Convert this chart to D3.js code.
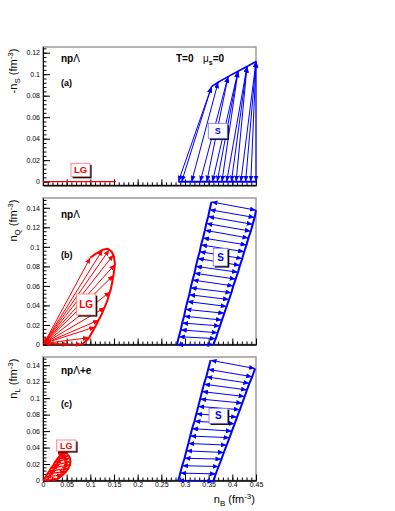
<!DOCTYPE html>
<html>
<head>
<meta charset="utf-8">
<script src="https://cdn.jsdelivr.net/npm/d3@7"></script>
<style>
  body { margin: 0; background: #fff; }
  svg { font-family: "Liberation Sans", Arial, Helvetica, sans-serif; }
</style>
</head>
<body>
<svg id="chart" width="395" height="511"></svg>
<script>
// ---- data (densities in fm^-3) ----
const xTickValues = [0, 0.05, 0.1, 0.15, 0.2, 0.25, 0.3, 0.35, 0.4, 0.45];
const yTicksA = [0, 0.02, 0.04, 0.06, 0.08, 0.1, 0.12];
const yTicksBC = [0, 0.02, 0.04, 0.06, 0.08, 0.1, 0.12, 0.14];

// (a) strangeness, S phase: bottom ends (n_S = 0) and top ends
const aBottomNB = [0.286, 0.293, 0.314, 0.332, 0.346, 0.358, 0.368, 0.378, 0.388, 0.398, 0.408, 0.418, 0.428, 0.439, 0.450];
const aTopNB    = [0.356, 0.356, 0.370, 0.391, 0.391, 0.412, 0.412, 0.412, 0.431, 0.431, 0.431, 0.450, 0.450, 0.450, 0.450];
const aTopNS    = [0.0884, 0.0884, 0.0925, 0.0977, 0.0977, 0.1027, 0.1027, 0.1027, 0.1072, 0.1072, 0.1072, 0.1118, 0.1118, 0.1118, 0.1118];
// (a) top boundary of the S phase
const aEdgeNB = [0.356, 0.370, 0.391, 0.412, 0.431, 0.450];
const aEdgeNS = [0.0884, 0.0925, 0.0977, 0.1027, 0.1072, 0.1118];
// (a) LG segment on n_S = 0
const aLGNB = [0, 0.154];

// (b) charge, S phase: left and right ends of tie lines
const bLeftNB  = [0.283, 0.287, 0.291, 0.294, 0.298, 0.301, 0.305, 0.309, 0.312, 0.316, 0.320, 0.323, 0.327, 0.331, 0.334, 0.338, 0.342, 0.345, 0.349, 0.352, 0.356];
const bLeftNQ  = [0.000, 0.008, 0.015, 0.022, 0.029, 0.036, 0.044, 0.051, 0.058, 0.066, 0.073, 0.080, 0.088, 0.095, 0.102, 0.109, 0.117, 0.124, 0.131, 0.138, 0.146];
const bRightNB = [0.360, 0.365, 0.369, 0.374, 0.378, 0.383, 0.388, 0.393, 0.398, 0.402, 0.407, 0.412, 0.416, 0.421, 0.425, 0.430, 0.434, 0.439, 0.443, 0.447, 0.450];
const bRightNQ = [0.000, 0.006, 0.012, 0.019, 0.025, 0.032, 0.039, 0.046, 0.053, 0.060, 0.067, 0.074, 0.081, 0.088, 0.095, 0.102, 0.109, 0.116, 0.123, 0.130, 0.1375];
// (b) LG: gas point and liquid branch
const bGas = [0.002, 0.001];
const bLiquidNB = [0.082, 0.096, 0.110, 0.124, 0.136, 0.144, 0.149, 0.152, 0.150, 0.145, 0.137, 0.126, 0.112, 0.100];
const bLiquidNQ = [0.000, 0.006, 0.018, 0.031, 0.045, 0.058, 0.071, 0.082, 0.090, 0.095, 0.098, 0.097, 0.093, 0.089];
const bFanNB = [0.054, 0.082, 0.097, 0.110, 0.118, 0.131, 0.142, 0.149, 0.152, 0.149, 0.140, 0.126, 0.100];
const bFanNQ = [0.000, 0.000, 0.007, 0.018, 0.025, 0.038, 0.054, 0.071, 0.082, 0.092, 0.097, 0.097, 0.089];

// (c) lepton, S phase
const cLeftNB  = [0.286, 0.290, 0.294, 0.299, 0.303, 0.307, 0.311, 0.315, 0.320, 0.324, 0.328, 0.332, 0.336, 0.340, 0.345, 0.349, 0.354];
const cLeftNL  = [0.000, 0.009, 0.018, 0.027, 0.036, 0.045, 0.054, 0.063, 0.072, 0.081, 0.090, 0.099, 0.108, 0.117, 0.126, 0.135, 0.146];
const cRightNB = [0.360, 0.365, 0.371, 0.377, 0.382, 0.388, 0.394, 0.399, 0.405, 0.410, 0.416, 0.421, 0.426, 0.431, 0.436, 0.442, 0.448];
const cRightNL = [-0.001, 0.008, 0.017, 0.026, 0.034, 0.043, 0.052, 0.060, 0.069, 0.077, 0.086, 0.094, 0.102, 0.110, 0.118, 0.126, 0.136];
// (c) LG
const cLGLeftNB  = [0.001, 0.005, 0.009, 0.013, 0.017, 0.021, 0.025, 0.030, 0.035, 0.040];
const cLGLeftNL  = [0.000, 0.004, 0.008, 0.011, 0.015, 0.018, 0.022, 0.026, 0.030, 0.034];
const cLGRightNB = [0.032, 0.042, 0.049, 0.054, 0.057, 0.058, 0.057, 0.054, 0.050, 0.044];
const cLGRightNL = [0.002, 0.007, 0.011, 0.015, 0.019, 0.023, 0.027, 0.030, 0.033, 0.035];

const RED = "#ff0000";
const BLUE = "#0000ff";

const svg = d3.select("#chart");
const x = d3.scaleLinear().domain([0, 0.45]).range([43, 256]);

// arrow heads
const defs = svg.append("defs");
[["arrRed", RED], ["arrBlue", BLUE]].forEach(([id, c]) => {
  defs.append("marker")
    .attr("id", id)
    .attr("viewBox", "0 0 10 10")
    .attr("refX", 10).attr("refY", 5)
    .attr("markerWidth", 6).attr("markerHeight", 5)
    .attr("preserveAspectRatio", "none")
    .attr("markerUnits", "userSpaceOnUse")
    .attr("orient", "auto-start-reverse")
    .append("path").attr("d", "M0,0L10,5L0,10z").attr("fill", c);
});

const fmt = (v) => String(+v.toFixed(3));

//Panel frames + axes
let drawPanel = (p) => {
  const y = d3.scaleLinear().domain(p.yDomain).range([p.bottom, p.top]);
  const g = svg.append("g");

  g.append("rect")
    .attr("x", 43).attr("y", p.top)
    .attr("width", 213).attr("height", p.bottom - p.top)
    .attr("fill", "none").attr("stroke", "#9a9a9a").attr("stroke-width", 1.5);

  const minorY = d3.range(0, p.yDomain[1], 0.004);
  g.append("g").attr("transform", "translate(43,0)")
    .call(d3.axisLeft(y).tickValues(minorY).tickSize(-3.5).tickSizeOuter(0).tickFormat(""));
  const yMajor = g.append("g").attr("transform", "translate(43,0)")
    .call(d3.axisLeft(y).tickValues(p.yTicks).tickSize(-7).tickSizeOuter(0).tickPadding(3).tickFormat(fmt));
  yMajor.selectAll("text").style("font-size", "7px").attr("fill", "#000");

  const minorX = d3.range(0, 0.4501, 0.01);
  g.append("g").attr("transform", `translate(0,${p.bottom})`)
    .call(d3.axisBottom(x).tickValues(minorX).tickSize(-3).tickSizeOuter(0).tickFormat(""));
  const xMajor = g.append("g").attr("transform", `translate(0,${p.bottom})`)
    .call(d3.axisBottom(x).tickValues(xTickValues).tickSize(-6).tickSizeOuter(0).tickPadding(2)
      .tickFormat(p.xLabels ? fmt : ""));
  xMajor.selectAll("text").style("font-size", "7px").attr("fill", "#000");

  g.selectAll(".domain").attr("stroke", "#000");
  g.selectAll(".tick line").attr("stroke", "#000");

  // y title (rotated, aligned to the top of the axis)
  const t = g.append("text")
    .attr("transform", `translate(17,${p.top + 1.5}) rotate(-90)`)
    .attr("text-anchor", "end")
    .style("font-size", "11px");
  p.title.forEach((part) => {
    const s = t.append("tspan").text(part.t);
    if (part.sub) s.attr("dy", 2.8).style("font-size", "8px");
    if (part.sup) s.attr("dy", -4.5).style("font-size", "8px");
    if (part.back) s.attr("dy", part.back);
  });
  return y;
};

let tieLines = (y, x1, y1, x2, y2, color, marker, width) => {
  svg.append("g")
    .selectAll("line")
    .data(x1)
    .enter()
    .append("line")
    .attr("x1", (d, i) => x(x1[i]))
    .attr("y1", (d, i) => y(y1[i]))
    .attr("x2", (d, i) => x(x2[i]))
    .attr("y2", (d, i) => y(y2[i]))
    .attr("stroke", color)
    .attr("stroke-width", width || 1)
    .attr("marker-start", `url(#${marker})`)
    .attr("marker-end", `url(#${marker})`);
};

let boundary = (y, xs, ys, color, width) => {
  svg.append("path")
    .datum(xs.map((v, i) => [v, ys[i]]))
    .attr("d", d3.line().x((d) => x(d[0])).y((d) => y(d[1])))
    .attr("fill", "none")
    .attr("stroke", color)
    .attr("stroke-width", width)
    .attr("stroke-linejoin", "round");
};

let labelBox = (bx, by, w, h, txt, color, border, size) => {
  svg.append("rect").attr("x", bx + 1.6).attr("y", by + 1.6).attr("width", w).attr("height", h).attr("fill", "#000");
  svg.append("rect").attr("x", bx).attr("y", by).attr("width", w).attr("height", h)
    .attr("fill", "#fff").attr("stroke", border).attr("stroke-width", 0.8);
  svg.append("text").attr("x", bx + w / 2).attr("y", by + h / 2 + size * 0.36)
    .attr("text-anchor", "middle").style("font-size", size + "px").style("font-weight", "bold")
    .attr("fill", color).text(txt);
};

let boldText = (tx, ty, parts, size) => {
  const t = svg.append("text").attr("x", tx).attr("y", ty).style("font-size", size + "px").style("font-weight", "bold");
  parts.forEach((part) => {
    const s = t.append("tspan").text(part.t);
    if (part.normal) s.style("font-weight", "normal");
    if (part.sub) s.attr("dy", 2.5).style("font-size", (size * 0.7) + "px");
    if (part.back) s.attr("dy", part.back);
  });
};

// ---------- panel (a) ----------
const yA = drawPanel({
  top: 47, bottom: 185.3, yDomain: [-0.0034, 0.1253], yTicks: yTicksA, xLabels: false,
  title: [{ t: "-n" }, { t: "S", sub: true }, { t: " (fm", back: -2.8 }, { t: "-3", sup: true }, { t: ")", back: 4.5 }]
});
svg.append("line")
  .attr("x1", x(aLGNB[0])).attr("x2", x(aLGNB[1]))
  .attr("y1", yA(0)).attr("y2", yA(0))
  .attr("stroke", RED).attr("stroke-width", 1.4);
svg.append("line")
  .attr("x1", x(aBottomNB[0])).attr("x2", x(aBottomNB[aBottomNB.length - 1]))
  .attr("y1", yA(0)).attr("y2", yA(0))
  .attr("stroke", BLUE).attr("stroke-width", 2);
boundary(yA, aEdgeNB, aEdgeNS, BLUE, 1.6);
tieLines(yA, aBottomNB, aBottomNB.map(() => 0), aTopNB, aTopNS, BLUE, "arrBlue", 1);
labelBox(71, 163.3, 19, 13.4, "LG", RED, "#ff7070", 9.5);
labelBox(208.3, 123.3, 19, 15, "S", BLUE, "#7070ff", 9);
boldText(61, 62, [{ t: "np" }, { t: "Λ", normal: true }], 10);
boldText(61, 86, [{ t: "(a)" }], 9);
boldText(176, 62, [{ t: "T=0" }], 10);
boldText(203, 62, [{ t: "μ", normal: true }, { t: "s", sub: true }, { t: "=0", back: -2.5 }], 10);

// ---------- panel (b) ----------
const yB = drawPanel({
  top: 198, bottom: 344.5, yDomain: [0, 0.15], yTicks: yTicksBC, xLabels: false,
  title: [{ t: "n" }, { t: "Q", sub: true }, { t: " (fm", back: -2.8 }, { t: "-3", sup: true }, { t: ")", back: 4.5 }]
});
boundary(yB, bLiquidNB, bLiquidNQ, RED, 2);
tieLines(yB, bFanNB.map(() => bGas[0]), bFanNB.map(() => bGas[1]), bFanNB, bFanNQ, RED, "arrRed", 1);
boundary(yB, bLeftNB, bLeftNQ, BLUE, 2);
boundary(yB, bRightNB, bRightNQ, BLUE, 2);
tieLines(yB, bLeftNB, bLeftNQ, bRightNB, bRightNQ, BLUE, "arrBlue", 1);
labelBox(76.7, 294, 19, 21, "LG", RED, "#ff7070", 10);
labelBox(213.3, 248.3, 14.4, 17.7, "S", BLUE, "#7070ff", 10);
boldText(61, 218, [{ t: "np" }, { t: "Λ", normal: true }], 10);
boldText(61, 258, [{ t: "(b)" }], 9);

// ---------- panel (c) ----------
const yC = drawPanel({
  top: 357, bottom: 480.5, yDomain: [0, 0.15], yTicks: yTicksBC, xLabels: true,
  title: [{ t: "n" }, { t: "L", sub: true }, { t: " (fm", back: -2.8 }, { t: "-3", sup: true }, { t: ")", back: 4.5 }]
});
boundary(yC, cLGLeftNB, cLGLeftNL, RED, 2);
boundary(yC, cLGRightNB, cLGRightNL, RED, 2);
tieLines(yC, cLGLeftNB, cLGLeftNL, cLGRightNB, cLGRightNL, RED, "arrRed", 1.2);
boundary(yC, cLeftNB, cLeftNL, BLUE, 2);
boundary(yC, cRightNB, cRightNL, BLUE, 2);
tieLines(yC, cLeftNB, cLeftNL, cRightNB, cRightNL, BLUE, "arrBlue", 1);
labelBox(56.7, 440, 19.3, 11, "LG", RED, "#ff7070", 9);
labelBox(209, 408.3, 18.7, 15, "S", BLUE, "#7070ff", 10);
boldText(61, 374, [{ t: "np" }, { t: "Λ", normal: true }, { t: "+e" }], 10);
boldText(61, 407, [{ t: "(c)" }], 9);

// x title
const xt = svg.append("text").attr("x", 255).attr("y", 503).attr("text-anchor", "end").style("font-size", "11px");
xt.append("tspan").text("n");
xt.append("tspan").attr("dy", 2.8).style("font-size", "8px").text("B");
xt.append("tspan").attr("dy", -2.8).text(" (fm");
xt.append("tspan").attr("dy", -4.5).style("font-size", "8px").text("-3");
xt.append("tspan").attr("dy", 4.5).text(")");
</script>
</body>
</html>
